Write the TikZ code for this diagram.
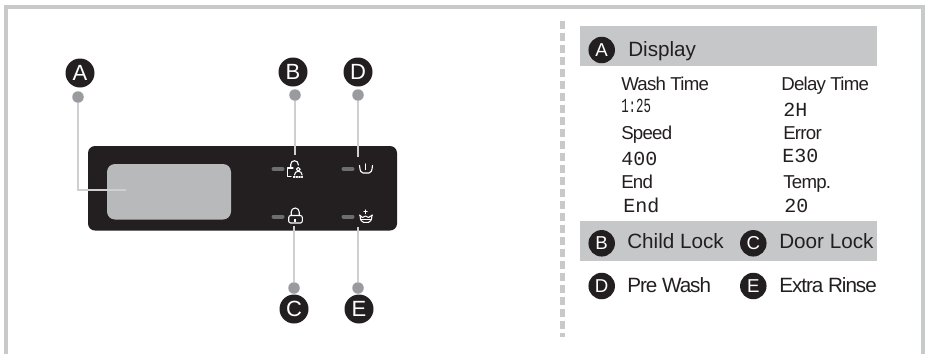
\documentclass[tikz,border=0pt]{standalone}
\usepackage{fontspec}
\usepackage{graphicx}
\setmainfont{Liberation Sans}
\newfontfamily\lcdfont{Liberation Mono}
\definecolor{panel}{HTML}{231F20}
\definecolor{frame}{HTML}{C8C9CB}
\definecolor{band}{HTML}{C6C7C9}
\definecolor{lcd}{HTML}{B8B9BB}
\definecolor{dotc}{HTML}{9A9B9E}
\definecolor{leadc}{HTML}{CFCFD1}
\definecolor{ledc}{HTML}{6D6E70}
\tikzset{x=0.75pt,y=-0.75pt,
 badge/.style={circle,fill=panel,text=white,minimum size=29pt*0.75,inner sep=0pt,font=\fontsize{16.5}{16}\selectfont},
 smallbadge/.style={circle,fill=panel,text=white,minimum size=26.5pt*0.75,inner sep=0pt,font=\fontsize{14}{14}\selectfont},
 dotm/.style={circle,fill=dotc,minimum size=11.5pt*0.75,inner sep=0pt},
 leader/.style={draw=leadc,line width=1.2pt*0.75},
 led/.style={draw=ledc,line width=4pt*0.75,line cap=round},
 icon/.style={draw=white,line width=1.1pt*0.75,line cap=round,line join=round},
 head/.style={anchor=base west,inner sep=0pt,text=panel,font=\fontsize{15.5}{18}\selectfont},
 tighthead/.style={anchor=base west,inner sep=0pt,text=panel,font=\fontsize{15.5}{18}\selectfont\addfontfeature{LetterSpace=-5}},
 lab/.style={anchor=base west,inner sep=0pt,text=panel,font=\fontsize{14}{15}\selectfont\addfontfeature{LetterSpace=-4}},
 lcdtxt/.style={anchor=base west,inner sep=0pt,text=panel,font=\lcdfont\fontsize{15}{15}\selectfont}}
\begin{document}
\begin{tikzpicture}
\useasboundingbox (0,0) rectangle (925,354);
\fill[white] (0,0) rectangle (925,354);
% outer frame
\draw[frame,line width=4pt*0.75] (6,354) -- (6,6.7) -- (923,6.7) -- (923,354);
% separator
\draw[frame,line width=4.5pt*0.75,dash pattern=on 6pt off 3pt] (562.5,21) -- (562.5,337);
% panel
\fill[panel,rounded corners=7pt*0.75] (88,146) rectangle (397,230.5);
\fill[lcd,rounded corners=8pt*0.75] (107,164) rectangle (231,219.5);
% anchors
\node[badge] (bA) at (80,73) {A};
\node[badge] (bB) at (293,72) {B};
\node[badge] (bD) at (358,72) {D};
\node[badge] (bC) at (294,309) {C};
\node[badge] (bE) at (359,309) {E};
\node[dotm] (dA) at (78,97) {};
\node[dotm] (dB) at (295,95) {};
\node[dotm] (dD) at (358,95) {};
\node[dotm] (dC) at (294,288) {};
\node[dotm] (dE) at (358,288) {};
\coordinate (tA) at (126,190);
\coordinate (tB) at (295,155);
\coordinate (tD) at (358,157);
\coordinate (tC) at (294,226);
\coordinate (tE) at (358,227);
\draw[leader] (dA) |- (tA);
\draw[leader] (dB) -- (tB);
\draw[leader] (dD) -- (tD);
\draw[leader] (dC) -- (tC);
\draw[leader] (dE) -- (tE);
% LEDs
\draw[led] (273.5,169) -- (282.5,169);
\draw[led] (343.5,169) -- (352.5,169);
\draw[led] (273.5,216.5) -- (282.5,216.5);
\draw[led] (343.5,216.5) -- (352.5,216.5);
% child lock
\draw[icon] (291,176.7) -- (287.5,176.7) -- (287.5,168) -- (293,168);
\draw[icon] (290.7,168) -- (290.7,164.5) arc[start angle=180,end angle=360,radius=3.8] -- (298.3,165);
\draw[icon] (298.3,169.3) circle[radius=1.9];
\draw[icon] (294.5,175) arc[start angle=180,end angle=360,radius=3.8];
\draw[icon,dash pattern=on 1pt off 1pt] (293.5,177) -- (302.5,177);
% pre wash tub
\draw[icon] (365.5,164) -- (365.5,169.5);
\draw[icon] (359.5,165.5) .. controls (360,171) and (361,173) .. (363,173) -- (369,173) .. controls (371,173) and (372,171) .. (372.5,165.5);
% door lock
\draw[icon,rounded corners=1.5pt] (288.7,215.5) -- (302.3,215.5) -- (302.3,223) -- (288.7,223) -- cycle;
\draw[icon] (291.2,215.5) -- (291.2,212) arc[start angle=180,end angle=360,radius=4] -- (299.2,215.5);
\fill[white] (294.2,218.7) rectangle (296.2,221.8);
% extra rinse
\draw[icon] (365.5,210) -- (365.5,213.5);
\draw[icon] (363.8,211.7) -- (367.2,211.7);
\draw[icon] (359.5,215) -- (362.5,217.5) -- (365.5,216) -- (368.5,217.5) -- (372.5,215);
\draw[icon] (360,215.5) .. controls (360.5,220) and (361.5,222.3) .. (363.5,222.3) -- (368.5,222.3) .. controls (370.5,222.3) and (371.5,220) .. (372,215.5);
\draw[icon] (360.8,219.5) -- (371.2,219.5);
% right column
\fill[band] (580,26) rectangle (877,65.7);
\fill[band] (580,221) rectangle (877,261);
\node[smallbadge] (kA) at (601.7,50) {A};
\node[head] (tDisp) at (628,56.7) {Display};
\node[lab] (l1) at (621,90) {Wash Time};
\node[lab] (l2) at (781,90) {Delay Time};
\node[lcdtxt] (v1) at (621,112.7) {\scalebox{0.62}[1]{1:25}};
\node[lcdtxt] (v2) at (783,116.7) {2H};
\node[lab] (l3) at (621,139) {Speed};
\node[lab] (l4) at (783,139) {Error};
\node[lcdtxt] (v3) at (621,165) {400};
\node[lcdtxt] (v4) at (782,162) {E30};
\node[lab] (l5) at (621,188) {End};
\node[lab] (l6) at (783,188) {Temp.};
\node[lcdtxt] (v5) at (623,212.5) {End};
\node[lcdtxt] (v6) at (784,212) {20};
\node[smallbadge] (kB) at (601.7,243.3) {B};
\node[head] (tB2) at (627,248) {Child Lock};
\node[smallbadge] (kC) at (753.3,243.3) {C};
\node[head] (tC2) at (779,248) {Door Lock};
\node[smallbadge] (kD) at (601.7,286) {D};
\node[tighthead] (tD2) at (627,292) {Pre Wash};
\node[smallbadge] (kE) at (753.3,286) {E};
\node[tighthead] (tE2) at (779,292) {Extra Rinse};
\end{tikzpicture}
\end{document}
